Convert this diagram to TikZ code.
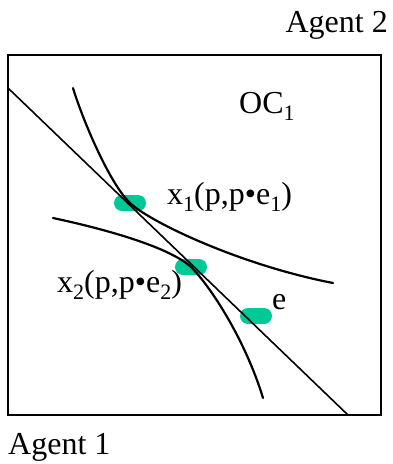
\documentclass[tikz,border=0pt]{standalone}
\usepackage{fontspec}
\setmainfont{Liberation Serif}
\usepackage{tikz}
\usetikzlibrary{positioning}
\definecolor{Mark}{HTML}{00C896}
\newcommand{\lowidx}[1]{\raisebox{-7pt}{\fontsize{22}{22}\selectfont #1}}

\begin{document}
\begin{tikzpicture}[x=1pt,y=-1pt,
    marker/.style={rectangle,rounded corners=8pt,fill=Mark,minimum width=32pt,minimum height=16pt,inner sep=0pt},
    curve/.style={line width=2.2pt,line cap=round},
    budget/.style={line width=1.6pt},
    lbl/.style={anchor=base west,inner sep=0pt,font=\fontsize{32}{38}\selectfont}
]
\useasboundingbox (0,0) rectangle (392,464);
% the box
\draw[line width=1.8pt] (8,55) rectangle (381,415);
% allocations
\node[marker] (x1) at (130,203) {};
\node[marker] (x2) at (191,267) {};
\node[marker] (e) at (256,316) {};
% price line and indifference curves
\draw[budget] (8,88) -- (348,415);
\draw[curve] (73,88) .. controls (83,121) and (110,184) .. (x1.center)
    .. controls (150,222) and (240,265) .. (333,283);
\draw[curve] (53,218) .. controls (100,228) and (168,246) .. (x2.center)
    .. controls (212,288) and (246,342) .. (263,398);
% labels
\node[lbl,anchor=base east] (ag2) at (388,32) {Agent 2};
\node[lbl] (ag1) at (8,454) {Agent 1};
\node[lbl] (oc) at (239,113) {OC\lowidx{1}};
\node[lbl] (x1lbl) at (167,204) {x\lowidx{1}(p,p•e\lowidx{1})};
\node[lbl] (x2lbl) at (57,292) {x\lowidx{2}(p,p•e\lowidx{2})};
\node[lbl] (elbl) at (272,309) {e};
\end{tikzpicture}
\end{document}
